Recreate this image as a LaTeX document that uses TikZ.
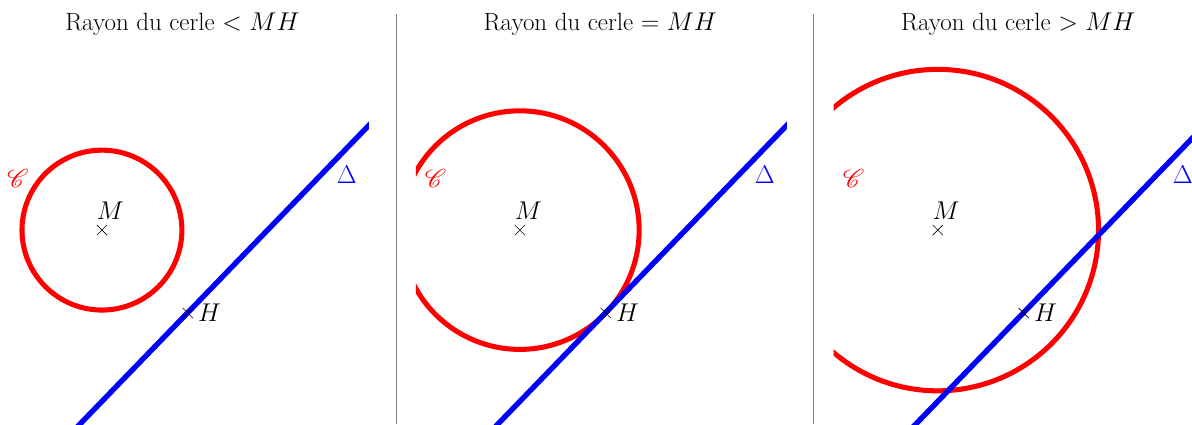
\documentclass[tikz,border=0pt]{standalone}
\usepackage{mathrsfs}
\usetikzlibrary{shapes.misc}
\tikzset{
  cercle/.style={red,line width=3.4pt},
  droite/.style={blue,line width=3.6pt},
  croix/.style={draw,cross out,thin,minimum size=6.5pt,inner sep=0pt},
  titre/.style={font=\fontsize{16.8}{20}\selectfont},
  etiq/.style={font=\fontsize{19}{22}\selectfont},
}
\begin{document}
\begin{tikzpicture}
\useasboundingbox (-2.41,-4.59) rectangle (25.77,5.44);
% les trois cas
\foreach \i/\r/\rel in {0/1.89/<,1/2.82/=,2/3.8/>}{
  \begin{scope}[xshift={\i*9.88cm}]
    \node[titre] (titre\i) at (1.9,4.87) {Rayon du cerle $\rel$ $MH$};
    \coordinate (A\i) at (-0.62,-4.69);
    \coordinate (B\i) at (6.41,2.58);
    \begin{scope}
      \clip (-2.46,-4.7) rectangle (6.31,5.44);
      \draw[cercle] (0,0) circle (\r);
      \draw[droite] (A\i)--(B\i);
    \end{scope}
    \node[croix] (M\i) at (0,0) {};
    \node[croix] (H\i) at (2.03,-1.96) {};
    \node[etiq] at (0.2,0.45) {$M$};
    \node[etiq,right] at (H\i.east) {$H$};
    \node[etiq,red] (C\i) at (-1.99,1.23) {$\mathscr{C}$};
    \node[etiq,blue] (D\i) at (5.79,1.3) {$\Delta$};
  \end{scope}
}
% separations
\foreach \x in {6.97,16.83}
  \draw[gray,line width=.6pt] (\x,5.11)--(\x,-4.59);
\end{tikzpicture}
\end{document}
